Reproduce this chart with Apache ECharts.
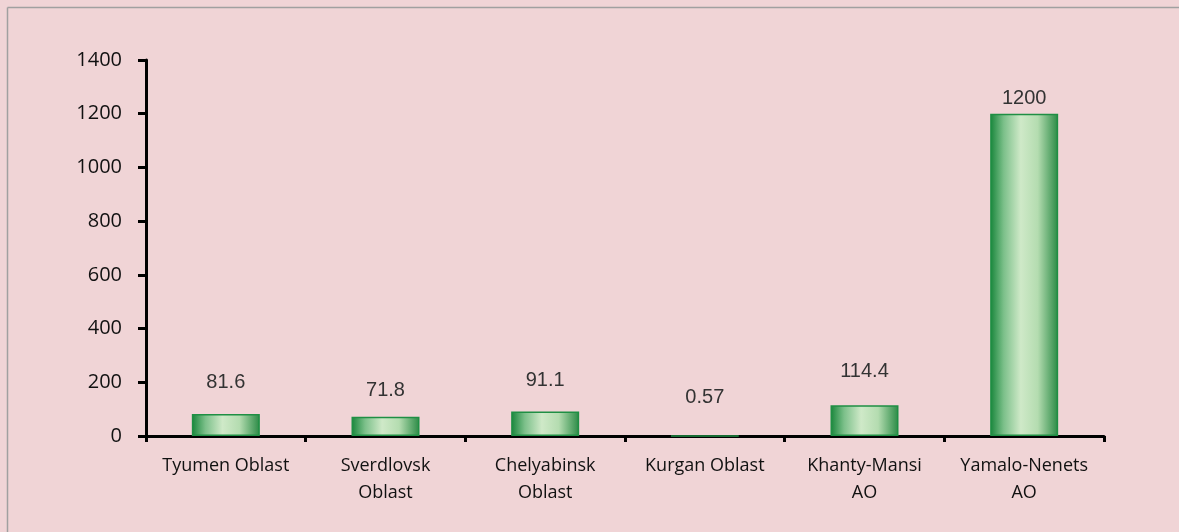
<!DOCTYPE html>
<html>
<head>
<meta charset="utf-8">
<script src="https://cdn.jsdelivr.net/npm/echarts@6/dist/echarts.min.js"></script>
<style>
  html, body { margin: 0; padding: 0; background: #f0d4d6; }
  #chart { width: 1179px; height: 532px; }
</style>
</head>
<body>
<div id="chart"></div>
<script>
  // regions and values
  const categories = ['Tyumen Oblast', 'Sverdlovsk\nOblast', 'Chelyabinsk\nOblast', 'Kurgan Oblast', 'Khanty-Mansi\nAO', 'Yamalo-Nenets\nAO']
  const values = [81.6, 71.8, 91.1, 0.57, 114.4, 1200]
  const yTicks = [0, 200, 400, 600, 800, 1000, 1200, 1400]

  // label gap above each bar (px), as in the source
  const labelGap = [22, 16, 21, 28, 24, 5]

  const barFill = new echarts.graphic.LinearGradient(0, 0, 1, 0, [
    { offset: 0, color: '#17853a' },
    { offset: 0.2, color: '#7cc08a' },
    { offset: 0.45, color: '#cfe9c8' },
    { offset: 0.7, color: '#b4dcb0' },
    { offset: 1, color: '#2a8a45' }
  ])

  const chart = echarts.init(document.getElementById('chart'))

  chart.setOption({
    backgroundColor: '#f0d4d6',
    animation: false,
    graphic: [
      { type: 'line', shape: { x1: 7.5, y1: 7.5, x2: 1179, y2: 7.5 }, style: { stroke: '#a0a0a0', lineWidth: 1.5 } },
      { type: 'line', shape: { x1: 7.5, y1: 7.5, x2: 7.5, y2: 532 }, style: { stroke: '#a0a0a0', lineWidth: 1.5 } }
    ],
    grid: { left: 146, right: 75, top: 60, bottom: 96 },
    xAxis: {
      type: 'category',
      data: categories,
      axisLine: { lineStyle: { color: '#000', width: 3 } },
      axisTick: { show: true, interval: 0, length: 6, lineStyle: { color: '#000', width: 3 } },
      axisLabel: {
        interval: 0,
        hideOverlap: false,
        color: '#111', fontFamily: 'Open Sans', fontSize: 18, margin: 16, lineHeight: 27
      }
    },
    yAxis: {
      type: 'value',
      min: 0,
      max: 1400,
      interval: 200,
      splitLine: { show: false },
      axisLine: { show: true, lineStyle: { color: '#000', width: 3 } },
      axisTick: { show: true, length: 8, lineStyle: { color: '#000', width: 3 } },
      axisLabel: {
        color: '#111', fontFamily: 'Open Sans', fontSize: 20, margin: 24,
        formatter: v => (yTicks.includes(v) ? String(v) : '')
      }
    },
    series: [{
      type: 'bar',
      barWidth: 68,
      data: values.map((v, i) => ({
        value: v,
        label: { distance: labelGap[i] }
      })),
      itemStyle: {
        color: barFill,
        borderColor: '#1f8f44',
        borderWidth: 1.5
      },
      label: {
        show: true,
        position: 'top',
        color: '#333',
        fontFamily: 'Liberation Sans',
        fontSize: 20,
        formatter: p => String(p.value)
      }
    }]
  })
</script>
</body>
</html>
